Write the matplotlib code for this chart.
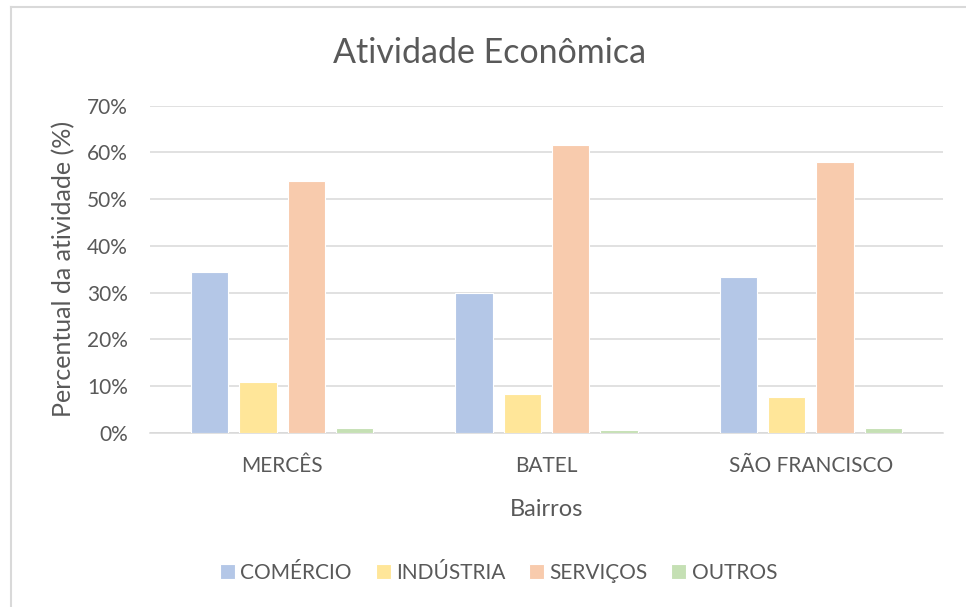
import matplotlib
matplotlib.use("Agg")
import matplotlib.pyplot as plt
import numpy as np
from matplotlib.lines import Line2D

plt.rcParams['font.family'] = ['Lato', 'DejaVu Sans']

bairros = ["MERCÊS", "BATEL", "SÃO FRANCISCO"]
series_names = ["COMÉRCIO", "INDÚSTRIA", "SERVIÇOS", "OUTROS"]
comercio = [34.3, 29.8, 33.4]
industria = [10.9, 8.2, 7.6]
servicos = [53.8, 61.5, 57.9]
outros = [0.9, 0.5, 1.0]
colors = ["#B4C7E7", "#FFE699", "#F8CBAD", "#C5E0B4"]
yticks = [0, 10, 20, 30, 40, 50, 60, 70]

data = [comercio, industria, servicos, outros]
txt = "#595959"

fig = plt.figure(figsize=(9.66, 6.07), dpi=100)
ax = fig.add_axes([150/966, 1-432.7/607, (943-150)/966, (432.7-105.7)/607])

x = np.arange(len(bairros))
w = 0.142
step = 0.183
for i, (vals, c, name) in enumerate(zip(data, colors, series_names)):
    ax.bar(x + (i-1.5)*step, np.array(vals)/100, width=w, color=c,
           edgecolor="white", linewidth=0.8, label=name, zorder=3)

ax.set_xlim(-0.5, 2.5)
ax.set_ylim(0, 0.7)
ax.set_yticks([t/100 for t in yticks])
ax.set_yticklabels([f"{t}%" for t in yticks], color=txt, fontsize=15)
ax.set_xticks(x)
ax.set_xticklabels(bairros, color=txt, fontsize=15)
ax.tick_params(axis='both', length=0)
ax.tick_params(axis='y', pad=16)
ax.tick_params(axis='x', pad=16.5)
ax.grid(axis='y', color="#D9D9D9", linewidth=1.1, zorder=0)
for s in ["top", "right", "left"]:
    ax.spines[s].set_visible(False)
ax.spines["bottom"].set_color("#D9D9D9")
ax.spines["bottom"].set_linewidth(1.1)

ax.set_ylabel("Percentual da atividade (%)", color=txt, fontsize=18, labelpad=8)
ax.set_xlabel("Bairros", color=txt, fontsize=17, labelpad=17)

fig.text(490/966, 1-53/607, "Atividade Econômica", ha="center", va="center",
         color=txt, fontsize=24.5)

leg = fig.legend(loc="center", bbox_to_anchor=(498.5/966, 1-573/607), ncol=4,
                 frameon=False, fontsize=15, handlelength=0.72, handleheight=0.72,
                 handletextpad=0.25, columnspacing=1.15, borderpad=0, borderaxespad=0)
for t in leg.get_texts():
    t.set_color(txt)

# chart frame (left and top)
fig.add_artist(Line2D([11/966, 11/966], [0, 1-7/607], color="#D9D9D9", linewidth=1.5, transform=fig.transFigure))
fig.add_artist(Line2D([11/966, 1], [1-7/607, 1-7/607], color="#D9D9D9", linewidth=1.5, transform=fig.transFigure))

fig.savefig("out.png", dpi=100)
